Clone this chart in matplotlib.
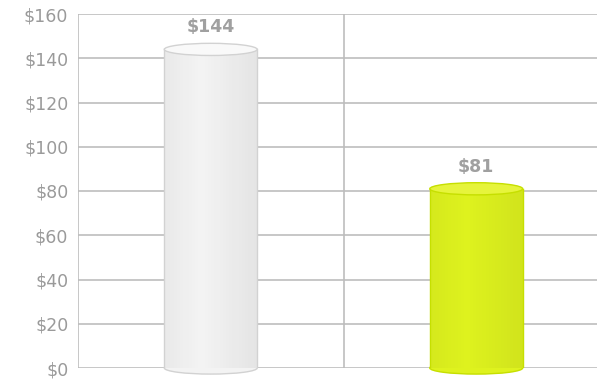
import matplotlib.pyplot as plt
import numpy as np
from matplotlib.patches import Ellipse, Rectangle

categories = ["A", "B"]
values = [144, 81]
labels = ["$144", "$81"]
yticks = [0, 20, 40, 60, 80, 100, 120, 140, 160]
ytick_labels = ["$" + str(v) for v in yticks]

body = ["#f3f3f3", "#def21e"]
edge = ["#d2d2d2", "#c6df00"]
top = ["#f9f9f9", "#e6f43c"]

plt.rcParams['font.family'] = ['DejaVu Sans']

fig = plt.figure(figsize=(5.97, 3.79), dpi=100)
ax = fig.add_axes([78 / 597, 1 - 368 / 379, (609 - 78) / 597, (368 - 14) / 379])

ax.set_xlim(-0.5, 1.5)
ax.set_ylim(0, 160)

grid_c = "#bdbdbd"
for v in yticks:
    ax.axhline(v, color=grid_c, lw=1.2, zorder=0)
ax.axvline(0.5, color=grid_c, lw=1.2, zorder=0)
ax.axvline(-0.5, color=grid_c, lw=1.2, zorder=0)

for s in ax.spines.values():
    s.set_visible(False)

ax.set_xticks([])
ax.set_yticks(yticks)
ax.set_yticklabels(ytick_labels, color="#9a9a9a", fontsize=12.5)
ax.tick_params(axis='y', length=0, pad=7)

w = 0.35
eh = 5.5
x = np.arange(len(categories))
for i, val in enumerate(values):
    # body with simple horizontal shading
    n = 30
    xs = np.linspace(x[i] - w / 2, x[i] + w / 2, n + 1)
    base = np.array(plt.matplotlib.colors.to_rgb(body[i]))
    for j in range(n):
        t = (j + 0.5) / n
        shade = 1 - 0.05 * abs(t - 0.4) * 2
        c = np.clip(base * shade, 0, 1)
        ax.add_patch(Rectangle((xs[j], 0), xs[j + 1] - xs[j], val,
                               facecolor=c, edgecolor='none', zorder=2, clip_on=False))
    ax.plot([x[i] - w / 2, x[i] - w / 2], [0, val], color=edge[i], lw=1, zorder=3)
    ax.plot([x[i] + w / 2, x[i] + w / 2], [0, val], color=edge[i], lw=1, zorder=3)
    ax.add_patch(Ellipse((x[i], 0), w, eh, facecolor=body[i], edgecolor=edge[i],
                         lw=1, zorder=1.5, clip_on=False))
    ax.add_patch(Ellipse((x[i], val), w, eh, facecolor=top[i], edgecolor=edge[i],
                         lw=1, zorder=4, clip_on=False))
    ax.annotate(labels[i], (x[i], val), xytext=(0, 16), textcoords='offset points',
                ha='center', va='center', fontsize=12.5, fontweight='bold',
                color="#a0a0a0", zorder=5)

fig.savefig("out.png", dpi=100)
